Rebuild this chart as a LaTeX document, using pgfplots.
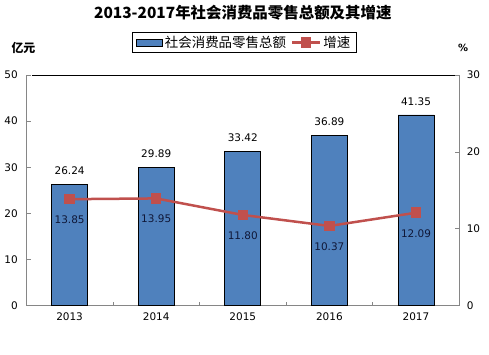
\documentclass[border=0pt]{standalone}
\usepackage{pgfplots}
\pgfplotsset{compat=1.18}
\usepackage{fontspec}
\setmainfont{DejaVu Sans}
\newfontfamily\cjk{Noto Sans CJK SC}
\definecolor{barblue}{HTML}{4F81BD}
\definecolor{linered}{HTML}{C0504D}
\definecolor{axgray}{HTML}{868686}
\definecolor{lblnavy}{HTML}{101838}
\newcommand{\tickfont}{\fontsize{10.5}{12}\selectfont}
\pgfplotsset{
  mylinelegend/.style={legend image code/.code={\draw[mark repeat=2, mark phase=2, ##1] plot coordinates {(0bp,0bp) (14bp,0bp) (28bp,0bp)};}},
  mybarlegend/.style={legend image code/.code={\draw[fill=barblue, draw=black, line width=0.6bp] (0bp,-3.5bp) rectangle (26bp,3.5bp);}},
}
\begin{document}
\begin{tikzpicture}
\useasboundingbox (-26.3bp,-49.3bp) rectangle (462.7bp,305.7bp);
\begin{axis}[
  at={(0,0)}, anchor=south west, scale only axis,
  width=433bp, height=230.7bp,
  xmin=-0.5, xmax=4.5, ymin=0, ymax=50,
  clip=false,
  axis x line*=bottom, axis y line*=left,
  axis line style={axgray,-, line width=0.8bp},
  xtick={0,1,2,3,4}, xticklabels={2013,2014,2015,2016,2017},
  major x tick style={draw=none},
  minor xtick={0.5,1.5,2.5,3.5},
  minor x tick style={draw=axgray, line width=0.6bp},
  minor tick length=4bp,
  ytick={0,10,20,30,40,50},
  tick align=inside, major tick length=5bp,
  major y tick style={draw=axgray, line width=0.6bp},
  tick label style={font=\tickfont},
  /pgf/number format/assume math mode=true,
  xticklabel style={yshift=-4bp},
  yticklabel style={xshift=-5bp},
  legend columns=2,
  legend style={at={(0.244,1.186)}, anchor=north west, draw=black, line width=0.8bp,
    font=\cjk\fontsize{13.5}{15}\selectfont, inner xsep=4bp, inner ysep=1.5bp,
    /tikz/every even column/.append style={column sep=3bp}},
]
\addplot[ybar, bar width=36bp, fill=barblue, draw=black, line width=0.8bp,
  mybarlegend,
  point meta=explicit symbolic,
  nodes near coords={\pgfplotspointmeta},
  nodes near coords style={font=\tickfont, black, yshift=6bp}]
  coordinates {(0,26.24)[26.24] (1,29.89)[29.89] (2,33.42)[33.42] (3,36.89)[36.89] (4,41.35)[41.35]};
\addlegendentry{社会消费品零售总额}
\addlegendimage{linered, line width=2.5bp, mark=square*, mark size=4bp, mylinelegend}
\addlegendentry{增速}
\draw[black, line width=0.8bp] ([xshift=5.7bp]rel axis cs:0,1) -- ([xshift=-1.6bp]rel axis cs:1,1);
\node[font=\cjk\bfseries\fontsize{12}{14}\selectfont] at ([xshift=-2.8bp, yshift=27bp]rel axis cs:0,1) {亿元};
\node[font=\bfseries\fontsize{10}{12}\selectfont] at ([xshift=3.7bp, yshift=27bp]rel axis cs:1,1) {\%};
\node[font=\cjk\bfseries\fontsize{15.5}{18}\selectfont] at ([yshift=62bp]rel axis cs:0.5,1) {2013-2017年社会消费品零售总额及其增速};
\end{axis}
\begin{axis}[
  at={(0,0)}, anchor=south west, scale only axis,
  width=433bp, height=230.7bp,
  xmin=-0.5, xmax=4.5, ymin=0, ymax=30,
  clip=false,
  axis x line=none, axis y line*=right,
  axis line style={axgray,-, line width=0.8bp},
  ytick={0,10,20,30},
  tick align=inside, major tick length=4bp,
  major y tick style={draw=axgray, line width=0.6bp},
  tick label style={font=\tickfont},
  /pgf/number format/assume math mode=true,
  yticklabel style={xshift=4bp},
]
\addplot[linered, line width=2.5bp, mark=square*, mark size=4bp, mark options={solid},
  point meta=explicit symbolic,
  nodes near coords={\pgfplotspointmeta},
  nodes near coords style={font=\tickfont, lblnavy, anchor=north, yshift=-12bp}]
  coordinates {(0,13.85)[13.85] (1,13.95)[13.95] (2,11.80)[11.80] (3,10.37)[10.37] (4,12.09)[12.09]};
\end{axis}
\end{tikzpicture}
\end{document}
